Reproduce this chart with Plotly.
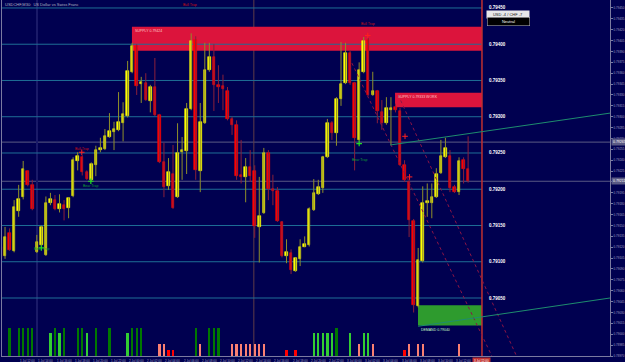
import plotly.graph_objects as go

# ---------------- data (USDCHF M30) ----------------
idx = list(range(104))
open_ = [0.79120,0.79108,0.79139,0.79115,0.79170,0.79189,0.79225,0.79206,0.79113,0.79123,
         0.79109,0.79181,0.79185,0.79173,0.79178,0.79174,0.79190,0.79239,0.79244,0.79224,
         0.79213,0.79233,0.79254,0.79255,0.79272,0.79279,0.79282,0.79291,0.79301,0.79362,
         0.79397,0.79345,0.79346,0.79322,0.79341,0.79302,0.79237,0.79204,0.79221,0.79189,
         0.79251,0.79253,0.79311,0.79406,0.79225,0.79291,0.79364,0.79382,0.79344,0.79342,
         0.79335,0.79297,0.79289,0.79220,0.79217,0.79231,0.79225,0.79148,0.79167,0.79250,
         0.79200,0.79197,0.79155,0.79108,0.79112,0.79087,0.79104,0.79121,0.79123,0.79171,
         0.79193,0.79202,0.79244,0.79291,0.79277,0.79324,0.79346,0.79388,0.79346,0.79268,
         0.79362,0.79406,0.79330,0.79335,0.79306,0.79291,0.79309,0.79313,0.79308,0.79233,
         0.79210,0.79156,0.79039,0.79101,0.79181,0.79181,0.79189,0.79222,0.79244,0.79246,
         0.79203,0.79196,0.79240,0.79228]
high = [0.79130,0.79148,0.79146,0.79185,0.79206,0.79239,0.79226,0.79213,0.79137,0.79150,
        0.79190,0.79195,0.79192,0.79193,0.79185,0.79189,0.79244,0.79251,0.79247,0.79226,
        0.79237,0.79260,0.79271,0.79283,0.79305,0.79293,0.79334,0.79320,0.79377,0.79402,
        0.79400,0.79355,0.79360,0.79344,0.79381,0.79304,0.79264,0.79243,0.79261,0.79291,
        0.79272,0.79319,0.79415,0.79411,0.79319,0.79402,0.79402,0.79400,0.79371,0.79358,
        0.79341,0.79300,0.79295,0.79268,0.79243,0.79254,0.79233,0.79217,0.79257,0.79254,
        0.79220,0.79203,0.79156,0.79131,0.79117,0.79106,0.79131,0.79135,0.79175,0.79214,
        0.79213,0.79246,0.79297,0.79294,0.79327,0.79403,0.79402,0.79392,0.79348,0.79375,
        0.79410,0.79409,0.79362,0.79337,0.79323,0.79327,0.79327,0.79318,0.79312,0.79240,
        0.79215,0.79159,0.79119,0.79204,0.79208,0.79208,0.79229,0.79268,0.79271,0.79254,
        0.79206,0.79244,0.79244,0.79273]
low = [0.79105,0.79104,0.79115,0.79113,0.79162,0.79186,0.79204,0.79171,0.79112,0.79121,
       0.79108,0.79178,0.79171,0.79168,0.79157,0.79160,0.79189,0.79226,0.79219,0.79213,
       0.79211,0.79218,0.79251,0.79254,0.79271,0.79254,0.79280,0.79266,0.79299,0.79360,
       0.79330,0.79319,0.79322,0.79306,0.79301,0.79236,0.79189,0.79199,0.79173,0.79188,
       0.79213,0.79221,0.79309,0.79213,0.79196,0.79290,0.79362,0.79308,0.79319,0.79309,
       0.79295,0.79275,0.79213,0.79208,0.79182,0.79210,0.79133,0.79099,0.79166,0.79185,
       0.79178,0.79155,0.79106,0.79098,0.79083,0.79086,0.79094,0.79120,0.79121,0.79170,
       0.79192,0.79195,0.79243,0.79268,0.79260,0.79315,0.79345,0.79344,0.79226,0.79266,
       0.79360,0.79329,0.79329,0.79291,0.79282,0.79289,0.79261,0.79306,0.79232,0.79210,
       0.79134,0.79030,0.79037,0.79099,0.79162,0.79160,0.79188,0.79221,0.79243,0.79196,
       0.79195,0.79192,0.79208,0.79209]
close = [0.79106,0.79134,0.79116,0.79175,0.79186,0.79228,0.79206,0.79173,0.79127,0.79148,
         0.79181,0.79186,0.79173,0.79179,0.79173,0.79188,0.79240,0.79246,0.79224,0.79214,
         0.79235,0.79254,0.79257,0.79273,0.79280,0.79283,0.79293,0.79304,0.79363,0.79397,
         0.79342,0.79348,0.79323,0.79341,0.79302,0.79237,0.79203,0.79224,0.79174,0.79250,
         0.79254,0.79311,0.79404,0.79226,0.79293,0.79364,0.79382,0.79344,0.79341,0.79338,
         0.79297,0.79289,0.79218,0.79217,0.79231,0.79218,0.79149,0.79163,0.79250,0.79200,
         0.79197,0.79156,0.79108,0.79113,0.79088,0.79105,0.79120,0.79124,0.79173,0.79195,
         0.79203,0.79244,0.79291,0.79277,0.79324,0.79345,0.79388,0.79346,0.79271,0.79364,
         0.79404,0.79330,0.79335,0.79308,0.79291,0.79312,0.79312,0.79309,0.79233,0.79213,
         0.79157,0.79040,0.79102,0.79181,0.79184,0.79189,0.79221,0.79246,0.79257,0.79202,
         0.79196,0.79239,0.79228,0.79211]

# volume-signal histogram (only bars that are drawn)
vol_idx = [0,2,4,5,6,7,11,12,13,14,17,18,19,21,24,28,29,30,31,35,36,37,38,43,44,46,47,48,
           51,52,53,54,55,56,57,58,63,65,69,70,71,72,73,74,77,79,80,81,82,89,90,92,93,101]
vol_val = [3.7,4.6,4.6,4.6,4.6,4.6,3.7,4.6,3.7,4.6,4.6,4.6,3.7,4.6,4.6,3.7,4.6,4.6,4.6,2,2,1,1,4.6,2,4.6,4.6,4.6,
           2,2,2,2,2,2,2,2,1,1,3.7,3.7,3.7,3.7,3.7,4.6,3.7,2,3.7,3.7,2,1,2,2,2,2]
vol_colors = {4.6: "#007800", 3.7: "#32cd32", 2: "#fa8072", 1: "#ff0000"}

round_levels = [0.79450,0.79400,0.79350,0.79300,0.79250,0.79200,0.79150,0.79100,0.79050]
hline_levels = [0.79265,0.79211]
supply1 = dict(x0=28.95, y0=0.79391, y1=0.79424, label="SUPPLY 0.79424")
supply2 = dict(x0=86.9, y0=0.79313, y1=0.79333, label="SUPPLY 0.79333 WORK")
demand1 = dict(x0=91.96, y0=0.79012, y1=0.79040, label="DEMAND 0.79040")
now_x = 106.05

bull_traps = [(41.7, 0.79454, None), (17.9, 0.79255, 0.79251), (80.9, 0.79428, 0.79412)]
bear_traps = [(19.9, 0.79205, 0.79211), (9.0, 0.79117, 0.79119), (79.0, 0.79241, 0.79263)]
extra_red_x = [89.1, 90.1]
extra_red_y = [0.79273, 0.79217]

tick_labels = ["1 Jul 10:00","1 Jul 12:00","1 Jul 14:00","1 Jul 16:00","1 Jul 18:00","1 Jul 20:00",
               "1 Jul 22:00","2 Jul 00:00","2 Jul 02:00","2 Jul 04:00","2 Jul 06:00","2 Jul 08:00",
               "2 Jul 10:00","2 Jul 12:00","2 Jul 14:00","2 Jul 16:00","2 Jul 18:00","2 Jul 20:00",
               "2 Jul 22:00","3 Jul 00:00","3 Jul 02:00","3 Jul 04:00","3 Jul 06:00","3 Jul 08:00",
               "3 Jul 10:00","3 Jul 12:00"]

BG = "#000050"
X0, X1 = 0.33, 134.25
Y0, Y1 = 0.78970, 0.79461

fig = go.Figure()

fig.add_trace(go.Bar(x=vol_idx, y=vol_val, yaxis="y2", width=0.5,
                     marker=dict(color=[vol_colors[v] for v in vol_val], line=dict(width=0)),
                     hoverinfo="skip", showlegend=False))

wxu, wyu, wxd, wyd = [], [], [], []
for i, o, h, l, c in zip(idx, open_, high, low, close):
    if c >= o:
        wxu += [i, i, None]; wyu += [l, h, None]
    else:
        wxd += [i, i, None]; wyd += [l, h, None]
fig.add_trace(go.Scatter(x=wxu, y=wyu, mode="lines", line=dict(color="#8f8f2a", width=1),
                         hoverinfo="skip", showlegend=False))
fig.add_trace(go.Scatter(x=wxd, y=wyd, mode="lines", line=dict(color="#8a1f3a", width=1),
                         hoverinfo="skip", showlegend=False))

ux = [i for i, o, c in zip(idx, open_, close) if c >= o]
ub = [o for o, c in zip(open_, close) if c >= o]
uh = [c - o for o, c in zip(open_, close) if c >= o]
dx = [i for i, o, c in zip(idx, open_, close) if c < o]
db = [c for o, c in zip(open_, close) if c < o]
dh = [o - c for o, c in zip(open_, close) if c < o]
fig.add_trace(go.Bar(x=ux, y=uh, base=ub, width=0.55, marker=dict(color="#ffff00", line=dict(width=0.6, color="#ffff00")),
                     hoverinfo="skip", showlegend=False))
fig.add_trace(go.Bar(x=dx, y=dh, base=db, width=0.55, marker=dict(color="#ff0000", line=dict(width=0.6, color="#ff0000")),
                     hoverinfo="skip", showlegend=False))

shapes = []
for z, col in [(supply1, "#dc143c"), (supply2, "#dc143c"), (demand1, "#2e9b2e")]:
    shapes.append(dict(type="rect", xref="x", yref="y", x0=z["x0"], x1=now_x, y0=z["y0"], y1=z["y1"],
                       fillcolor=col, line=dict(width=0), layer="below"))
for lv in round_levels:
    shapes.append(dict(type="line", xref="x", yref="y", x0=X0, x1=now_x, y0=lv, y1=lv,
                       line=dict(color="#1e6e96", width=1), layer="below"))
for lv in hline_levels:
    shapes.append(dict(type="line", xref="paper", yref="y", x0=0, x1=1, y0=lv, y1=lv,
                       line=dict(color="#5a5a84", width=1), layer="below"))
shapes.append(dict(type="line", xref="x", yref="paper", x0=8.04, x1=8.04, y0=0, y1=1,
                   line=dict(color="#1a1a68", width=2), layer="below"))
shapes.append(dict(type="line", xref="x", yref="paper", x0=55.8, x1=55.8, y0=0, y1=1,
                   line=dict(color="#5e3c48", width=1), layer="below"))
shapes.append(dict(type="line", xref="x", yref="paper", x0=now_x, x1=now_x, y0=0, y1=1,
                   line=dict(color="#c03030", width=1.5)))
shapes.append(dict(type="line", xref="x", yref="y", x0=77.4, y0=0.79374, x1=108.3, y1=0.78969,
                   line=dict(color="#8c1446", width=1, dash="dot")))
shapes.append(dict(type="line", xref="x", yref="y", x0=87.6, y0=0.79330, x1=113.8, y1=0.78968,
                   line=dict(color="#8c1446", width=1, dash="dot")))
shapes.append(dict(type="line", xref="x", yref="y", x0=85.8, y0=0.79261, x1=X1, y1=0.79305,
                   line=dict(color="#1e8c6e", width=1)))
shapes.append(dict(type="line", xref="x", yref="y", x0=92.0, y0=0.79011, x1=X1, y1=0.79050,
                   line=dict(color="#1e8c6e", width=1)))

ann = []
F = "Liberation Sans, Arial, sans-serif"
ann.append(dict(x=0.002, y=0.999, xref="paper", yref="paper", xanchor="left", yanchor="top",
                text="USDCHF,M30:  US Dollar vs Swiss Franc", showarrow=False,
                font=dict(size=4, color="#b0b0c0", family=F)))
for z in [supply1, supply2]:
    ann.append(dict(x=z["x0"] + 0.3, y=z["y1"], xref="x", yref="y", xanchor="left", yanchor="top",
                    text=z["label"], showarrow=False, font=dict(size=3.5, color="#ffc8c8", family=F)))
ann.append(dict(x=demand1["x0"] + 0.3, y=demand1["y0"], xref="x", yref="y", xanchor="left", yanchor="top",
                text=demand1["label"], showarrow=False, font=dict(size=3.5, color="#c8ffc8", family=F)))
for lv in round_levels:
    ann.append(dict(x=107.2, y=lv, xref="x", yref="y", xanchor="left", yanchor="middle",
                    text="<b>%.5f</b>" % lv, showarrow=False, font=dict(size=4.5, color="#ffffff", family=F)))
for lv in hline_levels:
    ann.append(dict(x=1.002, y=lv, xref="paper", yref="y", xanchor="left", yanchor="middle",
                    text="%.5f" % lv, showarrow=False, bgcolor="#5a5a84",
                    font=dict(size=3.5, color="#ffffff", family=F)))
for x, ty, my in bull_traps:
    ann.append(dict(x=x, y=ty, xref="x", yref="y", text="Bull Trap", showarrow=False,
                    font=dict(size=3.5, color="#d01010", family=F)))
for x, ty, my in bear_traps:
    ann.append(dict(x=x, y=ty, xref="x", yref="y", text="Bear Trap", showarrow=False,
                    font=dict(size=3.5, color="#10a030", family=F)))
fig.add_trace(go.Scatter(x=[b[0] for b in bull_traps if b[2]] + extra_red_x,
                         y=[b[2] for b in bull_traps if b[2]] + extra_red_y,
                         mode="markers", marker=dict(symbol="cross-thin", size=4, color="#ff2020",
                                                      line=dict(width=1, color="#ff2020")),
                         hoverinfo="skip", showlegend=False))
fig.add_trace(go.Scatter(x=[b[0] for b in bear_traps], y=[b[2] for b in bear_traps],
                         mode="markers", marker=dict(symbol="cross-thin", size=4, color="#20e020",
                                                      line=dict(width=1.2, color="#20e020")),
                         hoverinfo="skip", showlegend=False))
ann.append(dict(x=0.868, y=0.973, xref="paper", yref="paper", text="USD -4 / CHF -7", showarrow=False,
                bgcolor="#e8e8e8", width=40, height=5, font=dict(size=4, color="#202020", family=F)))
ann.append(dict(x=0.868, y=0.952, xref="paper", yref="paper", text="Neutral", showarrow=False,
                bgcolor="#000000", bordercolor="#c0c0c0", borderwidth=0.5, width=40, height=6,
                font=dict(size=4, color="#ffffff", family=F)))
for k, t in enumerate(tick_labels):
    ann.append(dict(x=k * 4 - 0.1, y=-0.002, xref="x", yref="paper", xanchor="left", yanchor="top",
                    text=t, showarrow=False, font=dict(size=3, color="#a0a0c0", family=F)))
ann.append(dict(x=now_x, y=-0.002, xref="x", yref="paper", xanchor="center", yanchor="top",
                text="3 Jul 12:00", showarrow=False, bgcolor="#c03030",
                font=dict(size=3, color="#ffffff", family=F)))

rt = [round(0.79450 - 0.00015 * k, 5) for k in range(33)]
fig.update_layout(
    width=625, height=362, margin=dict(l=2, r=15, t=0, b=6),
    paper_bgcolor=BG, plot_bgcolor=BG, barmode="overlay", bargap=0,
    showlegend=False, shapes=shapes, annotations=ann,
    xaxis=dict(range=[X0, X1], showgrid=False, zeroline=False, showticklabels=False,
               showline=True, linecolor="#7a7aa0", linewidth=1, ticks=""),
    yaxis=dict(range=[Y0, Y1], side="right", showgrid=False, zeroline=False,
               tickvals=rt, ticktext=["%.5f" % v for v in rt], tickfont=dict(size=3, color="#a0a0c0", family=F),
               ticks="outside", ticklen=2, tickcolor="#7a7aa0", showline=True, mirror=True,
               linecolor="#7a7aa0", linewidth=1),
    yaxis2=dict(range=[0, 58], overlaying="y", visible=False),
)
fig.write_html("out.html")
